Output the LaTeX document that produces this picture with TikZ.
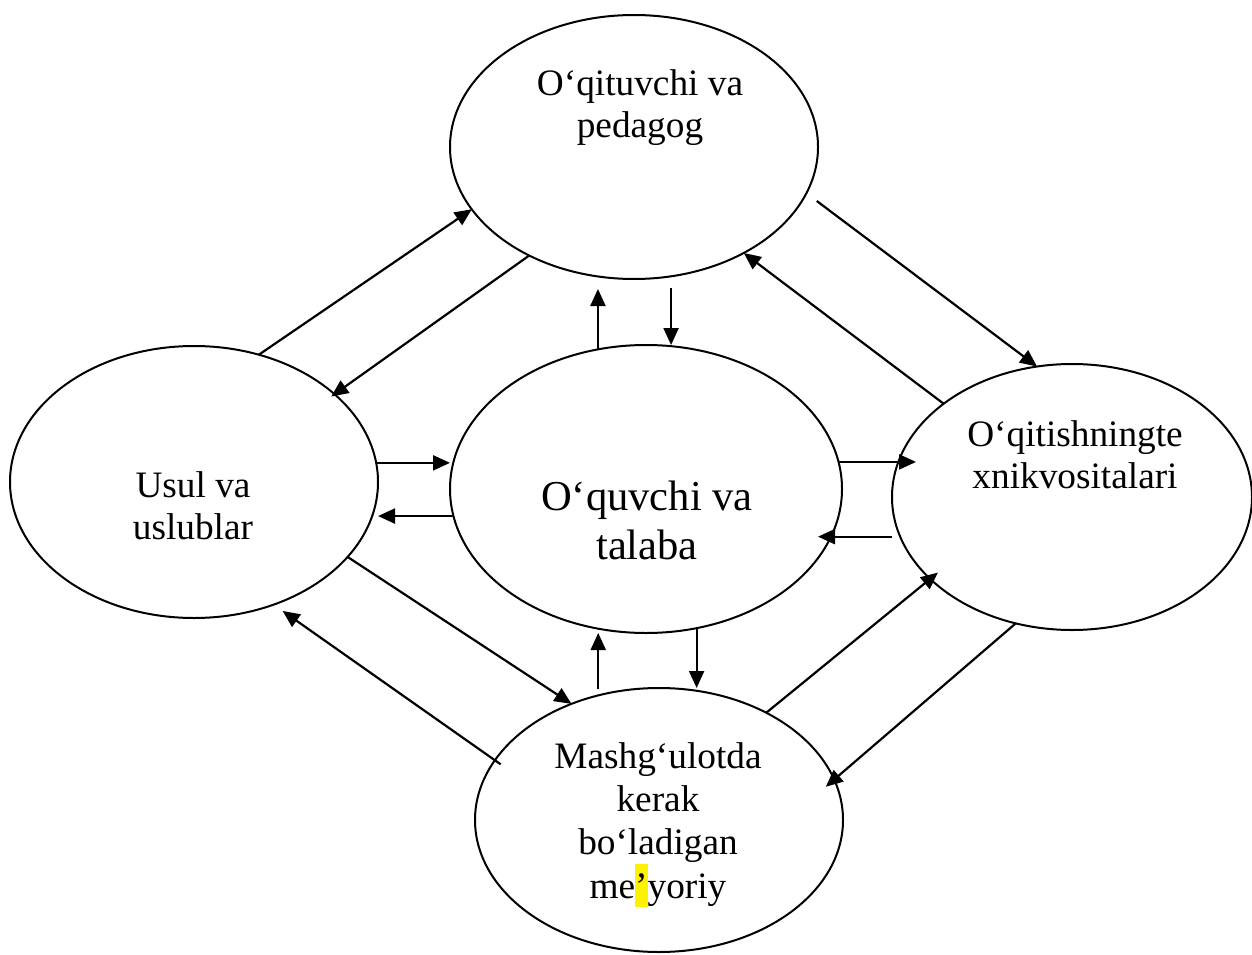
\documentclass[tikz,border=0pt]{standalone}
\usepackage{fontspec}
\setmainfont{Liberation Serif}
\usetikzlibrary{shapes.geometric,arrows.meta}
\begin{document}
\begin{tikzpicture}[x=1pt,y=-1pt,
  ell/.style={draw,ellipse,line width=2pt,inner sep=0pt,outer sep=0pt},
  lbl/.style={align=center,anchor=base,inner sep=0pt,font=\fontsize{37.3}{42}\selectfont},
  arr/.style={line width=2.2pt,-{Triangle[length=17pt,width=15pt]}}]
\useasboundingbox (0,0) rectangle (1252,955);
% ellipses
\node[ell,minimum width=368pt,minimum height=264pt] (T) at (634,147) {};
\node[ell,minimum width=368pt,minimum height=272pt] (L) at (194,482) {};
\node[ell,minimum width=392pt,minimum height=288pt] (C) at (646,489) {};
\node[ell,minimum width=360pt,minimum height=266pt] (R) at (1072,497) {};
\node[ell,minimum width=368pt,minimum height=264pt] (B) at (659,820) {};
% texts (anchored at the baseline of the last line)
\node[lbl] (tT) at (640,137) {O‘qituvchi va\\pedagog};
\node[lbl] (tL) at (193,539) {Usul va\\uslublar};
\node[lbl,font=\fontsize{42.6}{49}\selectfont] (tC) at (647,559) {O‘quvchi va\\talaba};
\node[lbl] (tR) at (1075,488) {O‘qitishningte\\xnikvositalari};
\node[lbl,font=\fontsize{37.3}{43.3}\selectfont] (tB) at (658,898) {Mashg‘ulotda\\kerak\\bo‘ladigan\\me{\setlength{\fboxsep}{0pt}\colorbox{yellow}{\rule[-9pt]{0pt}{43pt}’}}yoriy};
% connectors
\draw[arr] (L.63.4) -- (T.201.8);
\draw[arr,shorten >=-4pt] (T.226.9) -- (L.32);
\draw[arr,shorten <=13pt] (T.345.5) -- (R.105.3);
\draw[arr] (R.144.8) -- (T.316.8);
\draw[arr,shorten >=10pt] (C.109.4) -- (C.109.4 |- T.south);
\draw[arr,shorten <=12pt] (T.286) -- (T.286 |- C.north);
\draw[arr] (L.6.6) -- (L.6.6 -| C.west);
\draw[arr] (C.188.6) -- (C.188.6 -| L.east);
\draw[arr,shorten >=-24pt] (C.8.3) -- (C.8.3 -| R.west);
\draw[arr,shorten <=8pt,shorten >=-24pt] (R.193.1) -- (R.193.1 -| C.east);
\draw[arr,shorten <=6pt] (B.116.5) -- (B.116.5 |- C.south);
\draw[arr] (C.-70.6) -- (C.-70.6 |- B.north);
\draw[arr] (L.334.3) -- (B.127.2);
\draw[arr,shorten <=-7pt,shorten >=11pt] (B.160.9) -- (L.303.1);
\draw[arr,shorten >=-10pt] (B.45.8) -- (R.210.6);
\draw[arr,shorten >=-11pt] (R.246) -- (B.13.8);
\end{tikzpicture}
\end{document}
